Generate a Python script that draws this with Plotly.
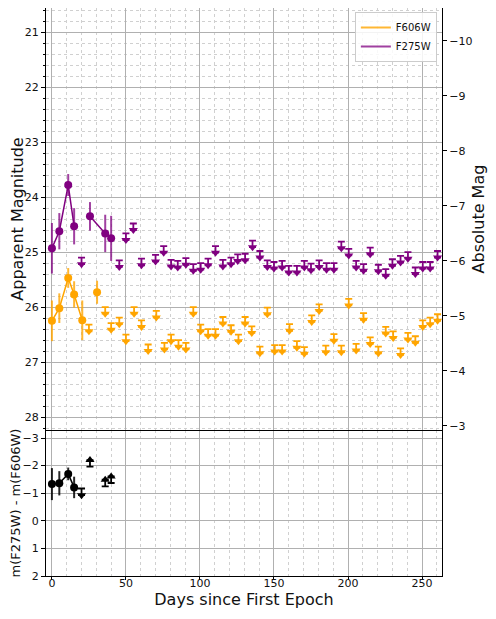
import plotly.graph_objects as go

ORANGE = "#FFA500"
PURPLE = "#800080"
FONT = "DejaVu Sans"
GRID = "#b0b0b0"
MINOR_GRID = "#d0d0d0"

DIST_MOD = 31.16  # apparent - absolute

# F606W detections (segment id splits the connecting line)
f606w_day = [0, 5, 11, 15, 20.5, 30.5]
f606w_mag = [26.25, 26.02, 25.47, 25.77, 26.24, 25.73]
f606w_err = [0.37, 0.27, 0.18, 0.24, 0.36, 0.21]
f606w_seg = [0, 0, 0, 0, 0, 1]

# F275W detections
f275w_day = [0, 5, 11, 15, 25.7, 36, 40]
f275w_mag = [24.93, 24.62, 23.78, 24.53, 24.35, 24.66, 24.75]
f275w_err = [0.46, 0.33, 0.2, 0.33, 0.26, 0.34, 0.41]
f275w_seg = [0, 0, 0, 0, 1, 1, 1]

# upper limits (magnitude of the bar at the top of each arrow)
f606w_lim_day = [25, 36, 40, 45.5, 50, 55.5, 60.5, 65, 70.5, 76, 80.5, 85.5,
                 90.5, 95.5, 100.5, 105.5, 110.5, 115.5, 121, 126, 130.5, 135,
                 140.5, 145.5, 150.5, 155.5, 160.5, 165.5, 170.5, 175.5, 180.5,
                 185, 190.5, 195.5, 200.5, 205.5, 210.5, 215, 220.5, 225.5,
                 230.5, 235.5, 240.5, 245.5, 250.5, 255.5, 260.5]
f606w_lim_mag = [26.32, 26.0, 26.29, 26.19, 26.5, 26.0, 26.24, 26.68, 26.07,
                 26.65, 26.5, 26.6, 26.65, 26.0, 26.32, 26.4, 26.4, 26.18,
                 26.33, 26.5, 26.18, 26.35, 26.72, 26.01, 26.69, 26.69, 26.31,
                 26.62, 26.73, 26.15, 25.95, 26.7, 26.49, 26.7, 25.85, 26.67,
                 26.11, 26.55, 26.72, 26.36, 26.44, 26.75, 26.47, 26.53, 26.24,
                 26.19, 26.13]

f275w_lim_day = [20, 45.5, 50, 55, 60.5, 70, 75.5, 80.5, 85, 90.5, 95.5, 100.5,
                 105.5, 110.5, 115.5, 121, 125.5, 130.5, 135.5, 140.5, 145.5,
                 150, 155.5, 160, 165.5, 170.5, 175, 180.5, 185.5, 190.5, 195.5,
                 200.5, 205.5, 210.5, 215, 220.5, 225.5, 230, 235.5, 240.5,
                 245.5, 250.5, 255.5, 260.5]
f275w_lim_mag = [25.10, 25.15, 24.66, 24.48, 25.12, 25.05, 24.89, 25.14, 25.16,
                 25.11, 25.22, 25.2, 25.12, 24.89, 25.14, 25.10, 25.04, 25.03,
                 24.79, 24.98, 25.15, 25.18, 25.16, 25.25, 25.25, 25.16, 25.21,
                 25.15, 25.2, 25.2, 24.81, 24.94, 25.16, 25.22, 24.92, 25.23,
                 25.31, 25.13, 25.07, 25.0, 25.28, 25.18, 25.18, 24.98]

# colour m(F275W) - m(F606W)
color_day = [0, 5, 11, 15]
color_val = [-1.33, -1.36, -1.70, -1.21]
color_err = [0.58, 0.44, 0.23, 0.39]
color_redder_day = [20]          # F275W limit -> arrow down
color_redder_val = [-1.17]
color_bluer_day = [25.7, 36, 40]  # F606W limit -> arrow up
color_bluer_val = [-1.96, -1.25, -1.37]

ARROW_MAG = 0.12
ARROW_COL = 0.24
SPLIT = 0.257  # fraction of plot height given to the colour panel

fig = go.Figure()


def add_detections(days, mags, errs, segs, color, err_color, xa, ya):
    for s in sorted(set(segs)):
        idx = [i for i, v in enumerate(segs) if v == s]
        fig.add_trace(go.Scatter(
            x=[days[i] for i in idx], y=[mags[i] for i in idx],
            xaxis=xa, yaxis=ya,
            mode="lines+markers", showlegend=False, hoverinfo="skip",
            line=dict(color=color, width=1.5),
            marker=dict(color=color, size=8, line=dict(width=0)),
            error_y=dict(type="data", array=[errs[i] for i in idx],
                         color=err_color, thickness=2, width=0),
        ))


def add_limits(days, vals, arrow, direction, color, xa, ya):
    n = len(days)
    if direction == "down":
        ys = [v + arrow for v in vals]
        err = dict(array=[0] * n, arrayminus=[arrow] * n)
        sym = "triangle-down"
    else:
        ys = [v - arrow for v in vals]
        err = dict(array=[arrow] * n, arrayminus=[0] * n)
        sym = "triangle-up"
    fig.add_trace(go.Scatter(
        x=days, y=ys, xaxis=xa, yaxis=ya,
        mode="markers", showlegend=False, hoverinfo="skip",
        marker=dict(symbol=sym, size=8, color=color, line=dict(width=0)),
        error_y=dict(type="data", symmetric=False, color=color,
                     thickness=1.8, width=3.5, **err),
    ))


# top panel: light curves
add_limits(f606w_lim_day, f606w_lim_mag, ARROW_MAG, "down", ORANGE, "x2", "y")
add_limits(f275w_lim_day, f275w_lim_mag, ARROW_MAG, "down", PURPLE, "x2", "y")
add_detections(f606w_day, f606w_mag, f606w_err, f606w_seg, ORANGE,
               "rgba(255,165,0,0.8)", "x2", "y")
add_detections(f275w_day, f275w_mag, f275w_err, f275w_seg, PURPLE,
               "rgba(128,0,128,0.75)", "x2", "y")

# legend entries (plain lines)
fig.add_trace(go.Scatter(x=[None], y=[None], xaxis="x2", yaxis="y",
                         mode="lines", name="F606W",
                         line=dict(color="rgba(255,165,0,0.8)", width=2)))
fig.add_trace(go.Scatter(x=[None], y=[None], xaxis="x2", yaxis="y",
                         mode="lines", name="F275W",
                         line=dict(color="rgba(128,0,128,0.75)", width=2)))

# invisible trace so the absolute-magnitude axis is drawn
fig.add_trace(go.Scatter(
    x=f606w_day, y=[m - DIST_MOD for m in f606w_mag], xaxis="x2", yaxis="y2",
    mode="markers", marker=dict(opacity=0), showlegend=False,
    hoverinfo="skip",
))

# bottom panel: colour
add_detections(color_day, color_val, color_err, [0] * len(color_day), "black",
               "rgba(0,0,0,0.85)", "x", "y3")
add_limits(color_redder_day, color_redder_val, ARROW_COL, "down", "black",
           "x", "y3")
add_limits(color_bluer_day, color_bluer_val, ARROW_COL, "up", "black",
           "x", "y3")

top_range = [28.236, 20.56]
tick_font = dict(family=FONT, size=11, color="#111")
title_font = dict(family=FONT, size=16, color="#111")

frame = dict(showline=True, linecolor="black", linewidth=1,
             zeroline=False, automargin=False)
x_common = dict(
    range=[-4, 263.5], tick0=0, dtick=50, gridcolor=GRID, domain=[0, 1],
    minor=dict(dtick=10, showgrid=True, griddash="dot", gridcolor=MINOR_GRID),
    **frame,
)

fig.update_layout(
    width=480, height=603,
    margin=dict(l=38, r=46, t=0, b=35),
    paper_bgcolor="white", plot_bgcolor="white",
    font=dict(family=FONT, size=11, color="#111"),
    xaxis=dict(
        anchor="y3", mirror=False, ticks="outside", ticklen=3,
        tickcolor="black", tickfont=tick_font, ticklabelstandoff=-6,
        title=dict(text="Days since First Epoch", font=title_font, standoff=4),
        **x_common,
    ),
    xaxis2=dict(anchor="y", matches="x", mirror=True, showticklabels=False,
                ticks="", **x_common),
    yaxis=dict(
        domain=[SPLIT, 1], anchor="x2", mirror=True, range=top_range,
        tick0=21, dtick=1, gridcolor=GRID, ticks="outside", ticklen=4,
        tickcolor="black", tickfont=tick_font,
        minor=dict(dtick=0.2, showgrid=True, griddash="dot",
                   gridcolor=MINOR_GRID, ticks="outside", ticklen=2,
                   tickcolor="black"),
        title=dict(text="Apparent Magnitude", font=title_font, standoff=12),
        **frame,
    ),
    yaxis2=dict(
        overlaying="y", side="right", anchor="x2",
        range=[r - DIST_MOD for r in top_range], tick0=-10, dtick=1,
        showgrid=False, zeroline=False, showline=False, automargin=False,
        ticks="outside", ticklen=4, tickcolor="black", tickfont=tick_font,
        title=dict(text="Absolute Mag", font=title_font, standoff=6),
    ),
    yaxis3=dict(
        domain=[0, SPLIT], anchor="x", mirror=True, range=[2, -3.29],
        tick0=-3, dtick=1, gridcolor=GRID, ticks="outside", ticklen=4,
        tickcolor="black", tickfont=tick_font,
        title=dict(text="m(F275W) - m(F606W)",
                   font=dict(family=FONT, size=13, color="#111"),
                   standoff=10),
        **frame,
    ),
    showlegend=True,
    legend=dict(
        x=0.987, y=0.993, xanchor="right", yanchor="top",
        bgcolor="rgba(255,255,255,0.85)", bordercolor="#cccccc",
        borderwidth=1, font=dict(family=FONT, size=10, color="#111"),
        itemwidth=30, tracegroupgap=0,
    ),
)

fig.write_html("out.html")
